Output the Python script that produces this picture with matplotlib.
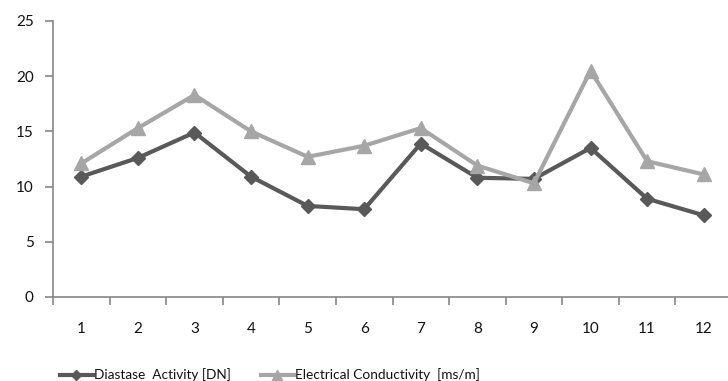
import matplotlib.pyplot as plt
import numpy as np

# Sample number and the two measured series
samples = [1, 2, 3, 4, 5, 6, 7, 8, 9, 10, 11, 12]
diastase = [10.9, 12.6, 14.9, 10.9, 8.25, 7.95, 13.9, 10.8, 10.7, 13.5, 8.9, 7.4]
conductivity = [12.1, 15.3, 18.3, 15.0, 12.7, 13.7, 15.3, 11.9, 10.3, 20.5, 12.3, 11.1]
y_ticks = [0, 5, 10, 15, 20, 25]

plt.rcParams['font.family'] = ['Lato', 'DejaVu Sans']

fig = plt.figure(figsize=(7.28, 3.81), dpi=100)
ax = fig.add_axes([53 / 728, 84 / 381, 679 / 728, 276 / 381])

x = np.arange(len(samples)) + 0.5
ax.plot(x, diastase, color='#595959', lw=3, marker='D', ms=7.5,
        label='Diastase  Activity [DN]')
ax.plot(x, conductivity, color='#a6a6a6', lw=3, marker='^', ms=10,
        label='Electrical Conductivity  [ms/m]')

ax.set_xlim(0, len(samples))
ax.set_ylim(0, 25)
ax.set_yticks(y_ticks)
ax.set_xticks(np.arange(len(samples) + 1))
ax.set_xticklabels([])
ax.set_xticks(x, minor=True)
ax.set_xticklabels([str(s) for s in samples], minor=True)
ax.tick_params(axis='x', which='minor', length=0, pad=18)

axis_gray = '#868686'
text_color = '#111111'
for side in ['top', 'right']:
    ax.spines[side].set_visible(False)
for side in ['left', 'bottom']:
    ax.spines[side].set_color(axis_gray)
    ax.spines[side].set_linewidth(1.2)
ax.tick_params(axis='both', which='major', color=axis_gray, length=6, width=1.2,
               labelsize=11, labelcolor=text_color)
ax.tick_params(axis='x', which='minor', labelsize=11, labelcolor=text_color)
ax.tick_params(axis='y', pad=8)

fig.legend(loc='center', bbox_to_anchor=(270 / 728, 1 - 375 / 381), ncol=2,
           frameon=False, fontsize=9.8, handlelength=2.4, handletextpad=0.1,
           columnspacing=2.2, markerscale=0.7, labelcolor=text_color)

fig.savefig('out.png', dpi=100)
